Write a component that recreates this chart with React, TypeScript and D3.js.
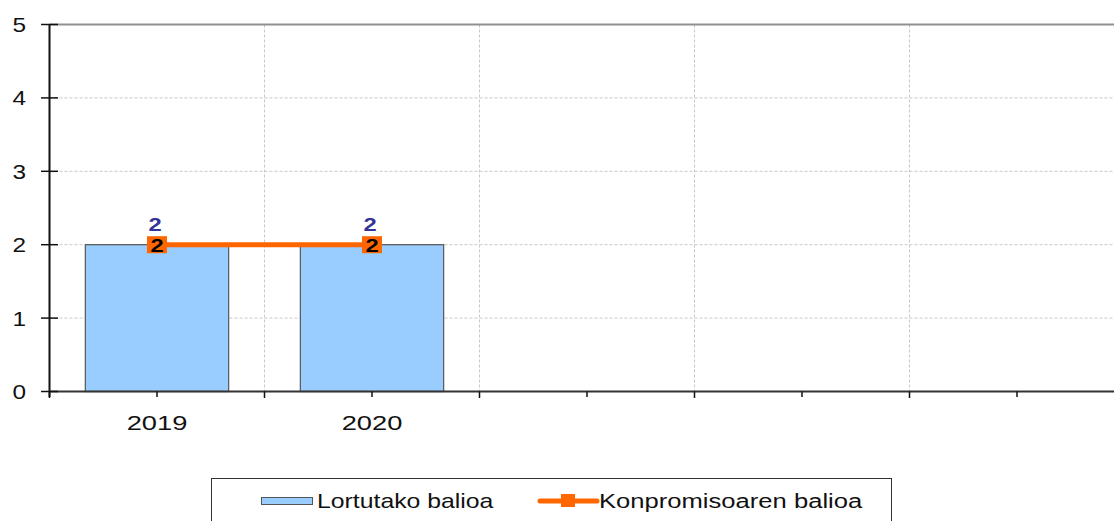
import React from "react";
import * as d3 from "d3";

const categories = ["2019", "2020", "", "", ""];
const achieved: (number | null)[] = [2, 2, null, null, null];
const commitment: (number | null)[] = [2, 2, null, null, null];
const yTicks = [0, 1, 2, 3, 4, 5];
const legendLabels = ["Lortutako balioa", "Konpromisoaren balioa"];

const W = 1114;
const H = 521;
const FONT = "'Liberation Sans', Arial, sans-serif";
const SX = 1.25;

export default function App() {
  const x = d3.scaleBand<number>().domain(d3.range(categories.length)).range([49.5, 1124.5]).padding(0);
  const y = d3.scaleLinear().domain([0, 5]).range([391.5, 24.5]);
  const bw = x.bandwidth();
  const barW = (bw * 2) / 3;
  const cx = (i: number) => (x(i) as number) + bw / 2;

  const linePts = commitment
    .map((v, i) => (v == null ? null : ([cx(i), y(v)] as [number, number])))
    .filter((p): p is [number, number] => p !== null);
  const lineGen = d3.line();

  const halfTicks = d3.range(categories.length * 2 + 1).map((k) => 49.5 + (k * bw) / 2);

  const sText = (tx: number, ty: number, s = SX) => `translate(${tx},${ty}) scale(${s},1)`;

  return (
    <svg width={W} height={H} style={{ position: "absolute", left: 0, top: 0, background: "#fff" }}>
      {/* horizontal gridlines */}
      {yTicks.filter((t) => t > 0 && t < 5).map((t) => (
        <line key={"hg" + t} x1={49.5} x2={W} y1={y(t)} y2={y(t)} stroke="#c8c8c8" strokeDasharray="3,2" strokeWidth={1} />
      ))}
      {/* vertical gridlines */}
      {d3.range(1, categories.length).map((i) => (
        <line key={"vg" + i} x1={x(i) as number} x2={x(i) as number} y1={24.5} y2={391.5} stroke="#c8c8c8" strokeDasharray="3,2" strokeWidth={1} />
      ))}
      {/* top border */}
      <line x1={49.5} x2={W} y1={24.5} y2={24.5} stroke="#909090" strokeWidth={2} />

      {/* bars */}
      {achieved.map((v, i) =>
        v == null ? null : (
          <rect key={"b" + i} x={cx(i) - barW / 2} y={y(v)} width={barW} height={y(0) - y(v)} fill="#99CCFF" stroke="#555" strokeWidth={1.2} />
        )
      )}

      {/* axes */}
      <line x1={49.5} x2={49.5} y1={24.5} y2={397} stroke="#111" strokeWidth={2} />
      <line x1={49.5} x2={W} y1={391.5} y2={391.5} stroke="#333" strokeWidth={2} />
      {yTicks.map((t) => (
        <line key={"yt" + t} x1={41} x2={58} y1={y(t)} y2={y(t)} stroke="#111" strokeWidth={1.5} />
      ))}
      {halfTicks.map((tx, k) => (
        <line key={"xt" + k} x1={tx} x2={tx} y1={391.5} y2={k % 2 === 0 ? 398 : 397} stroke="#111" strokeWidth={1.5} />
      ))}
      {yTicks.map((t) => (
        <text key={"yl" + t} transform={sText(26, y(t) + 7.5, 1.22)} textAnchor="end" fontFamily={FONT} fontSize={20} fill="#111">
          {t}
        </text>
      ))}
      {categories.map((c, i) => (
        <text key={"xl" + i} transform={sText(cx(i), 430, 1.3)} textAnchor="middle" fontFamily={FONT} fontSize={21} fill="#111">
          {c}
        </text>
      ))}

      {/* line series */}
      <path d={lineGen(linePts) || ""} fill="none" stroke="#FF6600" strokeWidth={5} />
      {commitment.map((v, i) =>
        v == null ? null : (
          <g key={"m" + i}>
            <rect x={cx(i) - 10} y={y(v) - 8.5} width={20} height={17} fill="#FF6600" />
            <text transform={sText(cx(i), y(v) + 7)} textAnchor="middle" fontFamily={FONT} fontWeight="bold" fontSize={19} fill="#000">
              {v}
            </text>
          </g>
        )
      )}
      {/* bar value labels */}
      {achieved.map((v, i) =>
        v == null ? null : (
          <text key={"bl" + i} transform={sText(cx(i) - 2, y(v) - 14)} textAnchor="middle" fontFamily={FONT} fontWeight="bold" fontSize={19} fill="#333399">
            {v}
          </text>
        )
      )}

      {/* legend */}
      <rect x={211.5} y={478.5} width={680} height={60} fill="#fff" stroke="#333" strokeWidth={1} />
      <rect x={261.5} y={497.5} width={51} height={7} fill="#99CCFF" stroke="#555" strokeWidth={1} />
      <text transform={sText(317, 508, 1.24)} fontFamily={FONT} fontSize={20} fill="#111">
        {legendLabels[0]}
      </text>
      <line x1={540} x2={597} y1={501} y2={501} stroke="#FF6600" strokeWidth={5} strokeLinecap="round" />
      <rect x={561} y={494} width={14} height={13} fill="#FF6600" />
      <text transform={sText(599, 508, 1.28)} fontFamily={FONT} fontSize={20} fill="#111">
        {legendLabels[1]}
      </text>
    </svg>
  );
}
